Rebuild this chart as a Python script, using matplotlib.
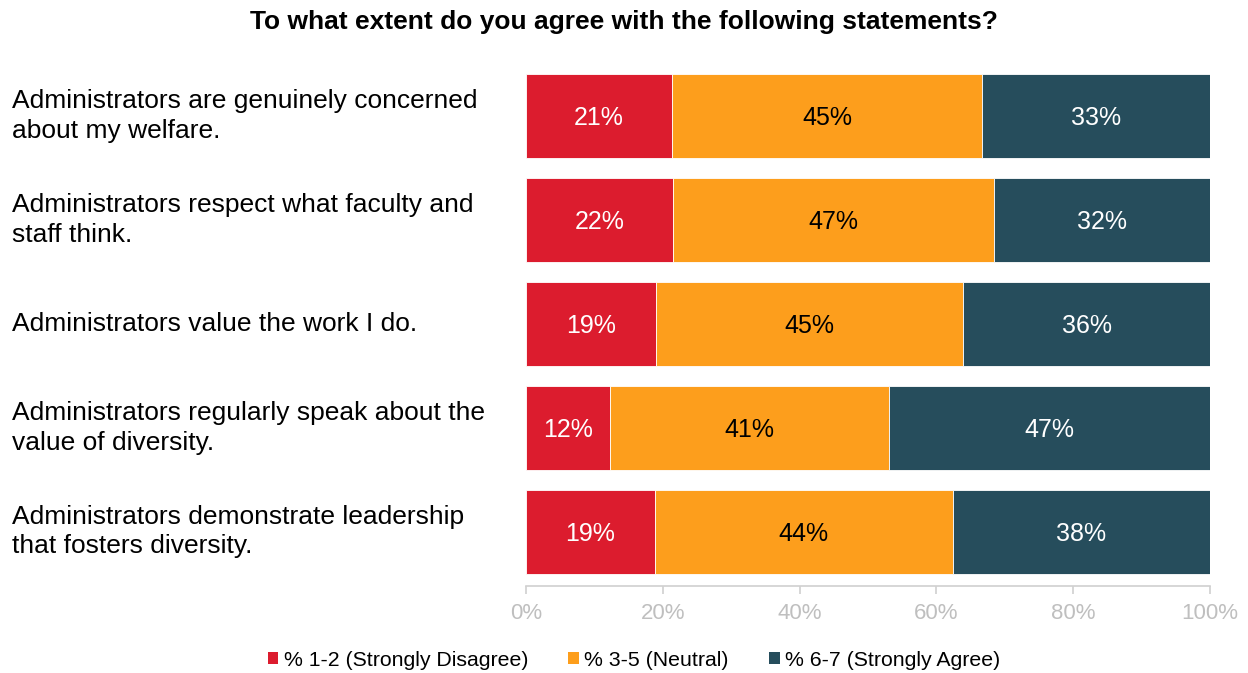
import numpy as np
import matplotlib
matplotlib.use("Agg")
import matplotlib.pyplot as plt
import matplotlib.transforms as mtransforms
from matplotlib.patches import Patch

plt.rcParams["font.family"] = ["Liberation Sans", "DejaVu Sans"]

statements = [
    "Administrators are genuinely concerned\nabout my welfare.",
    "Administrators respect what faculty and\nstaff think.",
    "Administrators value the work I do.",
    "Administrators regularly speak about the\nvalue of diversity.",
    "Administrators demonstrate leadership\nthat fosters diversity.",
]
disagree = [21.3, 21.5, 19.0, 12.3, 18.8]
neutral = [45.4, 46.9, 44.9, 40.8, 43.6]
agree = [33.3, 31.6, 36.1, 46.9, 37.6]

series = ["% 1-2 (Strongly Disagree)", "% 3-5 (Neutral)", "% 6-7 (Strongly Agree)"]
colors = ["#DC1C2E", "#FD9E1C", "#264D5C"]
text_colors = ["white", "black", "white"]
xticks = [0, 20, 40, 60, 80, 100]

fig = plt.figure(figsize=(12.48, 6.73), dpi=100)
ax = fig.add_axes([526 / 1248, 1 - 586 / 673, 684 / 1248, 522 / 673])

y = np.arange(len(statements))
left = np.zeros(len(statements))
for vals, col, tcol in zip([disagree, neutral, agree], colors, text_colors):
    vals = np.array(vals)
    ax.barh(y, vals, left=left, height=0.8, color=col, edgecolor="white", linewidth=0.6)
    for yi, l, v in zip(y, left, vals):
        ax.text(l + v / 2, yi + 0.02, f"{v:.0f}%", ha="center", va="center",
                color=tcol, fontsize=18)
    left += vals

ax.set_xlim(0, 100)
ax.set_ylim(4.52, -0.5)
ax.set_yticks([])
ax.set_xticks(xticks)
ax.set_xticklabels([f"{t}%" for t in xticks], fontsize=16)
ax.tick_params(axis="x", colors="#D0D0D0", length=6, width=1.2, pad=6,
               labelcolor="#BFBFBF")
for s in ["top", "right", "left"]:
    ax.spines[s].set_visible(False)
ax.spines["bottom"].set_color("#D0D0D0")
ax.spines["bottom"].set_linewidth(1.2)

# statement labels, left-aligned at the figure edge
trans = mtransforms.blended_transform_factory(fig.transFigure, ax.transData)
for yi, s in zip(y, statements):
    ax.text(12 / 1248, yi, s, transform=trans, ha="left", va="center",
            fontsize=19, linespacing=1.27, color="black")

fig.text(0.5, 1 - 22 / 673, "To what extent do you agree with the following statements?",
         ha="center", va="center", fontsize=19, fontweight="bold")

handles = [Patch(facecolor=c, label=l) for c, l in zip(colors, series)]
fig.legend(handles=handles, loc="center", bbox_to_anchor=(634 / 1248, 1 - 660 / 673),
           ncol=3, frameon=False, fontsize=15.3, handlelength=0.5, handleheight=0.5,
           handletextpad=0.25, columnspacing=1.9)

fig.savefig("out.png", dpi=100)
